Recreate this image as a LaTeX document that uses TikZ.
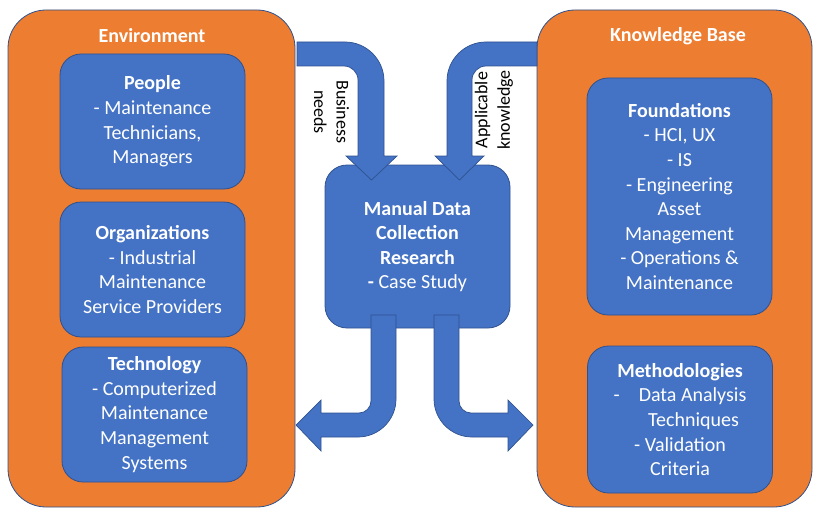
\documentclass[tikz,border=0pt]{standalone}
\usepackage{fontspec}
\setmainfont{Carlito}
\definecolor{obox}{HTML}{ED7D31}
\definecolor{bbox}{HTML}{4472C4}
\definecolor{edgec}{HTML}{2F528F}
\tikzset{
  outerbox/.style={draw=edgec, line width=0.8pt, fill=obox, rounded corners=38pt, minimum width=#1},
  innerbox/.style={draw=edgec, line width=0.8pt, fill=bbox, rounded corners=21pt, text=white, align=center,
    font=\fontsize{20}{24.6}\selectfont, inner sep=0pt, minimum width=185pt},
  titletext/.style={text=white, font=\bfseries\fontsize{20}{24}\selectfont},
  flow/.style={draw=edgec, line width=0.7pt, fill=bbox},
  vlabel/.style={align=center, font=\fontsize{18}{22.5}\selectfont, text=black, inner sep=0pt}
}
\begin{document}
\begin{tikzpicture}[x=1pt,y=-1pt]
\useasboundingbox (0,0) rectangle (813,508);
% outer containers
\node[outerbox=287pt, minimum height=497pt] (env) at (151.5,258.5) {};
\node[outerbox=275pt, minimum height=497pt] (kb) at (674.5,258.5) {};
\node[titletext] (envt) at (152,36) {Environment};
\node[titletext] (kbt) at (678,36) {Knowledge Base};
% environment boxes
\node[innerbox, minimum height=135pt] (people) at (152.5,121.5)
  {\textbf{People}\\- Maintenance\\Technicians,\\Managers};
\node[innerbox, minimum height=135pt] (org) at (152.5,269.5)
  {\textbf{Organizations}\\- Industrial\\Maintenance\\Service Providers};
\node[innerbox, minimum height=135pt] (tech) at (154.5,414.5)
  {\textbf{Technology}\\- Computerized\\Maintenance\\Management\\Systems};
% knowledge base boxes
\node[innerbox, minimum height=237pt] (found) at (679.5,196.5)
  {\textbf{Foundations}\\- HCI, UX\\- IS\\- Engineering\\Asset\\Management\\- Operations \&\\Maintenance};
\node[innerbox, minimum height=147pt] (meth) at (680,419.5)
  {\textbf{Methodologies}\\-\hspace{19pt}Data Analysis\\\hspace*{27pt}Techniques\\- Validation\\Criteria};
% centre
\node[innerbox, minimum height=163pt, rounded corners=22pt] (res) at (417.5,246.5)
  {\textbf{Manual Data}\\\textbf{Collection}\\\textbf{Research}\\\textbf{-} Case Study};
% flow arrows
\path[flow] (297,42) -- (345,42) .. controls (366.5,42) and (384,59.5) .. (384,81)
  -- (384,156) -- (397,156) -- (371.5,180) -- (346,156) -- (358,156)
  -- (358,80) .. controls (358,72.3) and (351.7,66) .. (344,66) -- (297,66) -- cycle;
\path[flow] (537,42) -- (486,42) .. controls (464.5,42) and (447,59.5) .. (447,81)
  -- (447,156) -- (435,156) -- (459.5,180) -- (484,156) -- (472,156)
  -- (472,80) .. controls (472,72.3) and (478.3,66) .. (486,66) -- (537,66) -- cycle;
\path[flow] (371,315) -- (396,315) -- (396,399) .. controls (396,419.9) and (378.9,437) .. (358,437)
  -- (321,437) -- (321,451) -- (296,425) -- (321,400) -- (321,413)
  -- (359,413) .. controls (365.6,413) and (371,407.6) .. (371,401) -- cycle;
\path[flow] (434,315) -- (459,315) -- (459,401) .. controls (459,407.6) and (464.4,413) .. (471,413)
  -- (508,413) -- (508,400) -- (533,425) -- (508,451) -- (508,437)
  -- (472,437) .. controls (451.1,437) and (434,419.9) .. (434,399) -- cycle;
% labels
\node[vlabel, rotate=-90] (bn) at (331.5,112) {Business\\needs};
\node[vlabel, rotate=90] (ak) at (494,110) {Applicable\\knowledge};
\end{tikzpicture}
\end{document}
